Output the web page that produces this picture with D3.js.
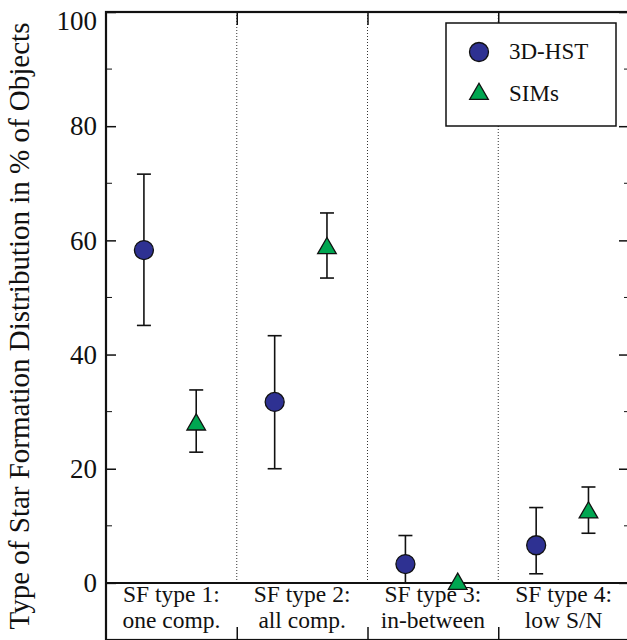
<!DOCTYPE html>
<html>
<head>
<meta charset="utf-8">
<script src="https://cdn.jsdelivr.net/npm/d3@7"></script>
<style>
  body { margin: 0; background: #fff; }
</style>
</head>
<body>
<div id="container"></div>
<script>
/* DATA */
const categories = ["SF type 1:|one comp.", "SF type 2:|all comp.", "SF type 3:|in-between", "SF type 4:|low S/N"];
const yTicks = [0, 20, 40, 60, 80, 100];

// 3D-HST (circles)
const hstValues = [58.3, 31.7, 3.3, 6.6];
const hstLow = [45.1, 20.0, 0, 1.6];
const hstHigh = [71.6, 43.3, 8.3, 13.2];

// SIMs (triangles)
const simValues = [27.9, 58.8, 0, 12.5];
const simLow = [22.9, 53.4, 0, 8.7];
const simHigh = [33.8, 64.8, 0, 16.8];

const seriesNames = ["3D-HST", "SIMs"];

/* CONSTANTS */
const W = 627, H = 640;
const margin = { top: 12, right: -2, bottom: 0, left: 106 };
const blue = "#2e3192", green = "#00a651";
const serif = "Liberation Serif";

const svg = d3.select("#container")
  .append("svg")
  .attr("width", W)
  .attr("height", H);

// scales
const xScale = d3.scaleLinear()
  .domain([0, categories.length])
  .range([margin.left, W - margin.right]);

const yScale = d3.scaleLinear()
  .domain([-10, 100])
  .range([H - margin.bottom, margin.top]);

const x0 = xScale.range()[0], x1 = xScale.range()[1];
const y0 = yScale.range()[0], y1 = yScale.range()[1];

// dotted separators between categories
svg.selectAll("line.sep")
  .data(d3.range(1, categories.length))
  .join("line")
  .attr("class", "sep")
  .attr("x1", d => xScale(d)).attr("x2", d => xScale(d))
  .attr("y1", y1).attr("y2", yScale(0))
  .attr("stroke", "#333")
  .attr("stroke-width", 1)
  .attr("stroke-dasharray", "1,2");

// zero line
svg.append("line")
  .attr("x1", x0).attr("x2", x1)
  .attr("y1", yScale(0)).attr("y2", yScale(0))
  .attr("stroke", "#111").attr("stroke-width", 2);

// y axes, ticks pointing in
const minor = d3.range(-10, 101, 10).filter(d => d % 20 !== 0);

const yLeft = svg.append("g")
  .attr("transform", `translate(${x0},0)`)
  .call(d3.axisRight(yScale).tickValues(yTicks).tickSize(10).tickFormat(""));
yLeft.select(".domain").remove();
yLeft.append("g").selectAll("line")
  .data(minor).join("line")
  .attr("x2", 6).attr("y1", d => yScale(d)).attr("y2", d => yScale(d))
  .attr("stroke", "#111");

const yRight = svg.append("g")
  .attr("transform", `translate(${x1},0)`)
  .call(d3.axisLeft(yScale).tickValues(yTicks).tickSize(10).tickFormat(""));
yRight.select(".domain").remove();
yRight.append("g").selectAll("line")
  .data(minor).join("line")
  .attr("x2", -5).attr("y1", d => yScale(d)).attr("y2", d => yScale(d))
  .attr("stroke", "#111");

svg.selectAll(".tick line").attr("stroke", "#111").attr("stroke-width", 1.5);

// y tick labels (100 nudged down so it stays inside the picture)
svg.selectAll("text.ylab")
  .data(yTicks)
  .join("text")
  .attr("class", "ylab")
  .attr("x", x0 - 9)
  .attr("y", d => yScale(d) + (d === 100 ? 9 : 0))
  .attr("dy", "0.34em")
  .attr("text-anchor", "end")
  .style("font-family", serif)
  .style("font-size", "27px")
  .attr("fill", "#111")
  .text(d => d);

// top / bottom ticks at category boundaries
const boundaries = d3.range(1, categories.length);
svg.append("g")
  .attr("transform", `translate(0,${y1})`)
  .call(d3.axisBottom(xScale).tickValues(boundaries).tickSize(13).tickFormat(""))
  .call(g => g.select(".domain").remove())
  .selectAll("line").attr("stroke", "#111").attr("stroke-width", 1.5);
svg.append("g")
  .attr("transform", `translate(0,${y0})`)
  .call(d3.axisTop(xScale).tickValues(boundaries).tickSize(13).tickFormat(""))
  .call(g => g.select(".domain").remove())
  .selectAll("line").attr("stroke", "#111").attr("stroke-width", 1.5);

// frame
svg.append("rect")
  .attr("x", x0).attr("y", y1)
  .attr("width", x1 - x0).attr("height", y0 - y1)
  .attr("fill", "none")
  .attr("stroke", "#111")
  .attr("stroke-width", 2.2);

// category labels
const catLabels = svg.selectAll("text.cat")
  .data(categories)
  .join("text")
  .attr("class", "cat")
  .attr("text-anchor", "middle")
  .style("font-family", serif)
  .style("font-size", "23.5px")
  .attr("fill", "#111");
catLabels.each(function(d, i) {
  const parts = d.split("|");
  d3.select(this).selectAll("tspan")
    .data(parts).join("tspan")
    .attr("x", xScale(i + 0.5))
    .attr("y", (p, j) => yScale(0) + 19 + j * 26)
    .text(p => p);
});

// error bars
function errorBars(vals, lo, hi, off, cls) {
  const g = svg.append("g").attr("class", cls);
  g.selectAll("line.v")
    .data(vals).join("line")
    .attr("x1", (d, i) => xScale(i + off)).attr("x2", (d, i) => xScale(i + off))
    .attr("y1", (d, i) => yScale(lo[i])).attr("y2", (d, i) => yScale(hi[i]))
    .attr("stroke", "#111").attr("stroke-width", 1.6);
  ["lo", "hi"].forEach(k => {
    const arr = k === "lo" ? lo : hi;
    g.selectAll("line." + k)
      .data(vals).join("line")
      .attr("class", k)
      .attr("x1", (d, i) => xScale(i + off) - 7).attr("x2", (d, i) => xScale(i + off) + 7)
      .attr("y1", (d, i) => yScale(arr[i])).attr("y2", (d, i) => yScale(arr[i]))
      .attr("stroke", "#111").attr("stroke-width", 1.6)
      .attr("display", (d, i) => lo[i] === hi[i] ? "none" : null);
  });
}
errorBars(hstValues, hstLow, hstHigh, 0.29, "hst-err");
errorBars(simValues, simLow, simHigh, 0.69, "sim-err");

// markers
const circleSym = d3.symbol().type(d3.symbolCircle).size(Math.PI * 9.5 * 9.5);
const triSym = d3.symbol().type(d3.symbolTriangle).size(150);

svg.selectAll("path.hst")
  .data(hstValues).join("path")
  .attr("class", "hst")
  .attr("d", circleSym)
  .attr("transform", (d, i) => `translate(${xScale(i + 0.29)},${yScale(d)})`)
  .attr("fill", blue).attr("stroke", "#111").attr("stroke-width", 1.3);

svg.selectAll("path.sim")
  .data(simValues).join("path")
  .attr("class", "sim")
  .attr("d", triSym)
  .attr("transform", (d, i) => `translate(${xScale(i + 0.69)},${yScale(d) + 1})`)
  .attr("fill", green).attr("stroke", "#111").attr("stroke-width", 1.3);

// legend
const legend = svg.append("g").attr("transform", "translate(446,23)");
legend.append("rect")
  .attr("width", 170).attr("height", 103)
  .attr("fill", "#fff").attr("stroke", "#111").attr("stroke-width", 1.5);
legend.append("path").attr("d", circleSym)
  .attr("transform", "translate(33,29)")
  .attr("fill", blue).attr("stroke", "#111").attr("stroke-width", 1.3);
legend.append("path").attr("d", triSym)
  .attr("transform", "translate(33,71)")
  .attr("fill", green).attr("stroke", "#111").attr("stroke-width", 1.3);
legend.selectAll("text")
  .data(seriesNames).join("text")
  .attr("x", 63)
  .attr("y", (d, i) => 29 + i * 42)
  .attr("dy", "0.3em")
  .style("font-family", serif)
  .style("font-size", "23px")
  .attr("fill", "#111")
  .text(d => d);

// y title
svg.append("text")
  .attr("transform", `translate(29,${(y0 + y1) / 2}) rotate(-90)`)
  .attr("text-anchor", "middle")
  .style("font-family", serif)
  .style("font-size", "29px")
  .attr("fill", "#111")
  .text("Type of Star Formation Distribution in % of Objects");
</script>
</body>
</html>
